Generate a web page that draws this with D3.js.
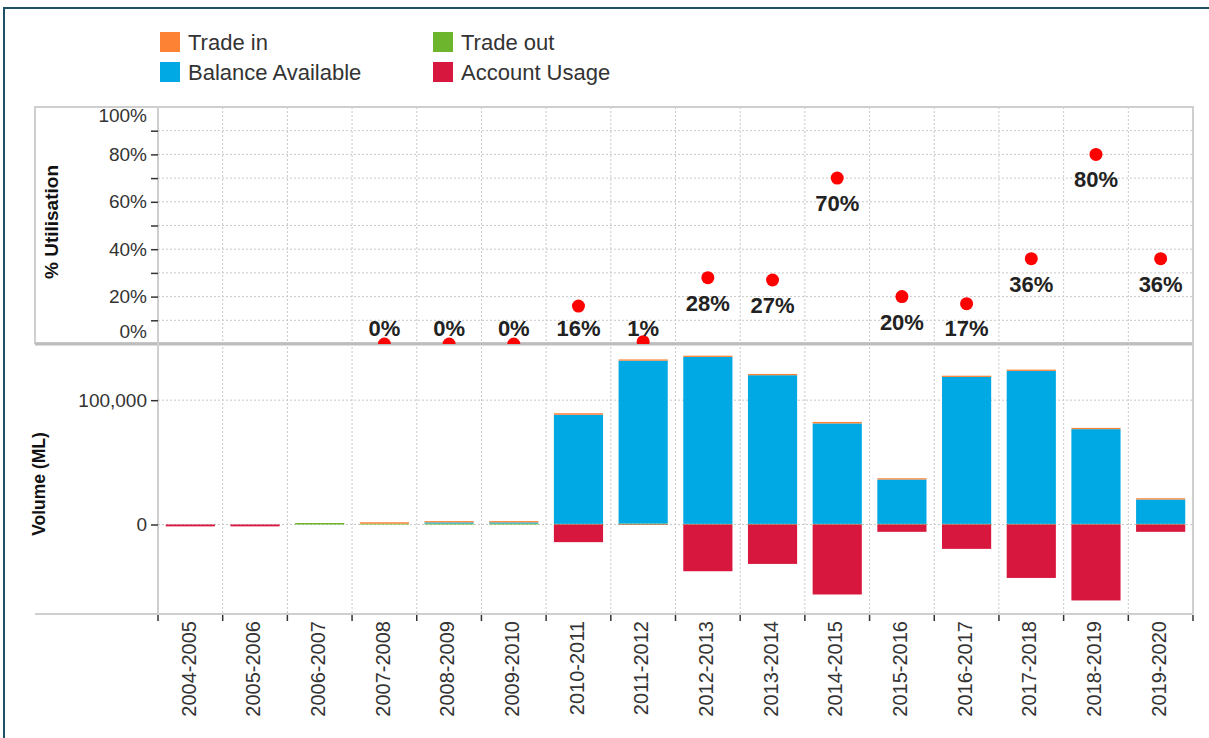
<!DOCTYPE html>
<html>
<head>
<meta charset="utf-8">
<script src="https://cdn.jsdelivr.net/npm/d3@7"></script>
<style>
  body { margin: 0; background: #fff; font-family: "Liberation Sans", Arial, sans-serif; }
  .grid line { stroke: #c8c8c8; stroke-dasharray: 2,2; }
  .axis text { fill: #333; font-size: 19px; }
  .axis path { display: none; }
  .axis line { stroke: #333; stroke-width: 1.5; }
</style>
</head>
<body>
<svg></svg>
<script>
var width = 1209;
var height = 738;

// chart values
var years = ["2004-2005","2005-2006","2006-2007","2007-2008","2008-2009","2009-2010","2010-2011","2011-2012",
  "2012-2013","2013-2014","2014-2015","2015-2016","2016-2017","2017-2018","2018-2019","2019-2020"];
var tradeOut = [0, 0, 1200, 700, 800, 800, 500, 800, 500, 500, 500, 500, 500, 500, 500, 500];
var balance  = [0, 0, 0, 0, 900, 900, 87800, 131000, 134300, 119600, 80800, 35700, 118200, 123100, 76200, 19600];
var tradeIn  = [0, 0, 0, 1100, 1000, 1000, 1200, 1000, 1000, 1000, 1200, 1000, 1000, 1000, 1000, 1000];
var usage    = [-1500, -1500, 0, 0, 0, 0, -14200, -300, -37600, -31700, -56300, -5900, -19600, -43000, -61100, -5900];
var utilisation = [null, null, null, 0, 0, 0, 0.16, 0.01, 0.28, 0.27, 0.70, 0.20, 0.17, 0.36, 0.80, 0.36];

var pctTicks = [0, 0.1, 0.2, 0.3, 0.4, 0.5, 0.6, 0.7, 0.8, 0.9, 1];
var volTicks = [0, 100000];

var seriesKeys = ["tradeOut", "balance", "tradeIn", "usage"];
var seriesNames = {tradeIn: "Trade in", tradeOut: "Trade out", balance: "Balance Available", usage: "Account Usage"};
var colors = {tradeIn: "#fd8234", tradeOut: "#6cb52d", balance: "#00a9e3", usage: "#d7173d"};

var rows = years.map(function(y, i) {
  return {year: y, tradeIn: tradeIn[i], tradeOut: tradeOut[i], balance: balance[i], usage: usage[i], util: utilisation[i]};
});

var left = 158, right = 1193;
var topY = 107, midY = 343, bottomY = 614;

var svg = d3.select("svg")
  .attr("width", width)
  .attr("height", height);

// outer frame
svg.append("rect")
  .attr("x", 4).attr("y", 8)
  .attr("width", 1230).attr("height", 800)
  .attr("fill", "none")
  .attr("stroke", "#1f5068")
  .attr("stroke-width", 2);

var x = d3.scaleBand().domain(years).range([left, right]).padding(0);
var step = x.step();
var barW = step * 0.76;

var yPct = d3.scaleLinear().domain([0, 1]).range([midY + 1, topY]);
var yVol = d3.scaleLinear().domain([-72000, 146000]).range([bottomY, midY]);

// legend
var legendItems = [
  {key: "tradeIn", x: 160, y: 32}, {key: "tradeOut", x: 433, y: 32},
  {key: "balance", x: 160, y: 62}, {key: "usage", x: 433, y: 62}
];
var legend = svg.selectAll(".legend")
  .data(legendItems).enter()
  .append("g")
  .attr("class", "legend")
  .attr("transform", function(d) { return "translate(" + d.x + "," + d.y + ")"; });
legend.append("rect")
  .attr("width", 20).attr("height", 20)
  .style("fill", function(d) { return colors[d.key]; });
legend.append("text")
  .attr("x", 28).attr("y", 10).attr("dy", "0.36em")
  .style("font-size", "22px").style("fill", "#333")
  .text(function(d) { return seriesNames[d.key]; });

// vertical grid lines at category boundaries
var bounds = d3.range(1, years.length).map(function(i) { return left + i * step; });
svg.append("g").attr("class", "grid")
  .selectAll("line").data(bounds).enter().append("line")
  .attr("x1", function(d) { return d; }).attr("x2", function(d) { return d; })
  .attr("y1", topY).attr("y2", bottomY);

// horizontal grid, top panel
svg.append("g").attr("class", "grid")
  .selectAll("line").data(pctTicks.slice(1, -1)).enter().append("line")
  .attr("x1", left).attr("x2", right)
  .attr("y1", function(d) { return yPct(d); }).attr("y2", function(d) { return yPct(d); });

// horizontal grid, bottom panel
svg.append("g").attr("class", "grid")
  .selectAll("line").data(volTicks).enter().append("line")
  .attr("x1", left).attr("x2", right)
  .attr("y1", function(d) { return yVol(d); }).attr("y2", function(d) { return yVol(d); });

// stacked bars
var stack = d3.stack().keys(seriesKeys).offset(d3.stackOffsetDiverging);
var layers = stack(rows);

svg.append("g").selectAll("g")
  .data(layers).enter().append("g")
  .attr("fill", function(d) { return colors[d.key]; })
  .selectAll("rect")
  .data(function(d) { return d; }).enter().append("rect")
  .attr("x", function(d) { return x(d.data.year) + (step - barW) / 2; })
  .attr("width", barW)
  .attr("y", function(d) { return yVol(Math.max(d[0], d[1])); })
  .attr("height", function(d) { return Math.abs(yVol(d[0]) - yVol(d[1])); });

// panel frames
svg.append("rect")
  .attr("x", 35).attr("y", topY)
  .attr("width", right - 35).attr("height", midY - topY)
  .attr("fill", "none").attr("stroke", "#cfcfcf").attr("stroke-width", 2);
svg.append("line")
  .attr("x1", 35).attr("x2", right).attr("y1", midY + 1).attr("y2", midY + 1)
  .attr("stroke", "#bdbdbd").attr("stroke-width", 3);
svg.append("line")
  .attr("x1", left).attr("x2", left).attr("y1", topY).attr("y2", bottomY)
  .attr("stroke", "#cfcfcf").attr("stroke-width", 2);
svg.append("line")
  .attr("x1", right).attr("x2", right).attr("y1", midY).attr("y2", bottomY)
  .attr("stroke", "#cfcfcf").attr("stroke-width", 2);
svg.append("line")
  .attr("x1", 35).attr("x2", right).attr("y1", bottomY).attr("y2", bottomY)
  .attr("stroke", "#cfcfcf").attr("stroke-width", 2);

// utilisation dots, clipped to the top panel
svg.append("clipPath").attr("id", "topclip")
  .append("rect").attr("x", left).attr("y", topY).attr("width", right - left).attr("height", midY - topY + 1);

var pts = rows.filter(function(d) { return d.util !== null; });
svg.append("g").attr("clip-path", "url(#topclip)")
  .selectAll("circle").data(pts).enter().append("circle")
  .attr("cx", function(d) { return x(d.year) + step / 2; })
  .attr("cy", function(d) { return yPct(d.util); })
  .attr("r", 6.5)
  .attr("fill", "#ff0000");

svg.append("g").selectAll("text").data(pts).enter().append("text")
  .attr("x", function(d) { return x(d.year) + step / 2; })
  .attr("y", function(d) { return Math.min(yPct(d.util) + 25, 328); })
  .attr("dy", "0.36em")
  .attr("text-anchor", "middle")
  .style("font-size", "22px").style("font-weight", "bold").style("fill", "#222")
  .text(function(d) { return d3.format(".0%")(d.util); });

// y axis, top panel
var axTop = svg.append("g").attr("class", "axis")
  .attr("transform", "translate(" + left + ",0)")
  .call(d3.axisLeft(yPct).tickValues(pctTicks).tickSize(7).tickPadding(4)
    .tickFormat(function(d) { return Math.round(d * 100) % 20 === 0 ? d3.format(".0%")(d) : ""; }));
axTop.selectAll(".tick").filter(function(d) { return d === 0 || d === 1; }).select("line").remove();
axTop.selectAll(".tick text").attr("dy", function(d) {
  if (d === 1) return "0.75em";
  if (d === 0) return "-0.35em";
  return "0.32em";
}).attr("x", -11);

// y axis, bottom panel
svg.append("g").attr("class", "axis")
  .attr("transform", "translate(" + left + ",0)")
  .call(d3.axisLeft(yVol).tickValues(volTicks).tickSize(7).tickPadding(4).tickFormat(d3.format(",")));

// x axis: ticks at category boundaries, labels at centres
svg.append("g").attr("class", "axis")
  .selectAll("line").data(d3.range(0, years.length + 1)).enter().append("line")
  .attr("x1", function(i) { return left + i * step; }).attr("x2", function(i) { return left + i * step; })
  .attr("y1", bottomY + 1).attr("y2", bottomY + 7);

svg.append("g").attr("class", "axis")
  .selectAll("text").data(years).enter().append("text")
  .attr("transform", function(d) { return "translate(" + (x(d) + step / 2 - 2) + "," + (bottomY + 7) + ") rotate(-90)"; })
  .attr("text-anchor", "end")
  .attr("dy", "0.36em")
  .style("font-size", "20px")
  .text(function(d) { return d; });

// axis titles
svg.append("text")
  .attr("transform", "translate(58," + ((topY + midY) / 2 - 3) + ") rotate(-90)")
  .attr("text-anchor", "middle")
  .style("font-size", "19px").style("font-weight", "bold").style("fill", "#111")
  .text("% Utilisation");
svg.append("text")
  .attr("transform", "translate(45,484) rotate(-90)")
  .attr("text-anchor", "middle")
  .style("font-size", "17.5px").style("font-weight", "bold").style("fill", "#111")
  .text("Volume (ML)");
</script>
</body>
</html>
